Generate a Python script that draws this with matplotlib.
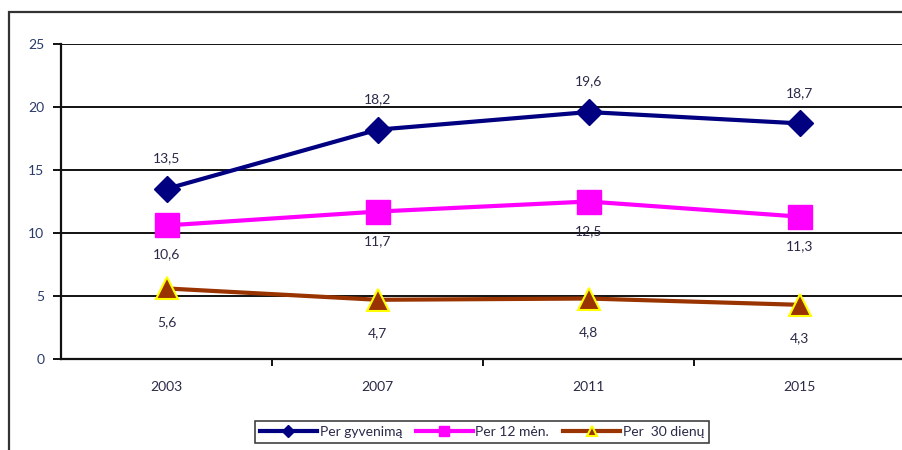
import matplotlib.pyplot as plt
from matplotlib.patches import Rectangle

plt.rcParams['font.family'] = ['Lato', 'DejaVu Sans']

years = ['2003', '2007', '2011', '2015']
per_gyvenima = [13.5, 18.2, 19.6, 18.7]
per_12_men = [10.6, 11.7, 12.5, 11.3]
per_30_dienu = [5.6, 4.7, 4.8, 4.3]
y_ticks = [0, 5, 10, 15, 20, 25]

W, H = 902, 450
fig = plt.figure(figsize=(W / 100, H / 100), dpi=100)

# outer chart frame (runs off the right and bottom edges)
fig.patches.append(Rectangle((9 / W, -0.05), 1.0, 1 - 12 / H + 0.05, transform=fig.transFigure,
                             fill=False, edgecolor='#333333', linewidth=1.6))

ax = fig.add_axes([61 / W, 1 - 359 / H, 844 / W, 315 / H])
x = list(range(len(years)))
txt = '#2a2a48'
fs = 10

ax.plot(x, per_gyvenima, color='#000080', lw=3, marker='D', ms=13, mfc='#000080', mec='#000080',
        label='Per gyvenimą', zorder=4)
ax.plot(x, per_12_men, color='#FF00FF', lw=3, marker='s', ms=17, mfc='#FF00FF', mec='#FF00FF',
        label='Per 12 mėn.', zorder=4)
ax.plot(x, per_30_dienu, color='#993300', lw=3, marker='^', ms=16, mfc='#993300', mec='#FFFF00',
        mew=1.5, label='Per  30 dienų', zorder=4)

def fmt(v):
    return f'{v:.1f}'.replace('.', ',')

for xi, v in zip(x, per_gyvenima):
    ax.annotate(fmt(v), (xi, v), xytext=(0, 22), textcoords='offset points', ha='center',
                va='center', fontsize=fs, color=txt)
for xi, v in zip(x, per_12_men):
    ax.annotate(fmt(v), (xi, v), xytext=(0, -21), textcoords='offset points', ha='center',
                va='center', fontsize=fs, color=txt)
for xi, v in zip(x, per_30_dienu):
    ax.annotate(fmt(v), (xi, v), xytext=(0, -24), textcoords='offset points', ha='center',
                va='center', fontsize=fs, color=txt)

ax.set_xlim(-0.5, 3.5)
ax.set_ylim(0, 25)
ax.set_yticks(y_ticks)
ax.set_yticklabels([str(t) for t in y_ticks], fontsize=fs, color='#2a3a6a')
for t in y_ticks[1:]:
    ax.axhline(t, color='#111111', lw=1.4, zorder=1)

ax.set_xticks(x)
ax.set_xticklabels(years, fontsize=fs, color=txt)
ax.tick_params(axis='x', which='major', length=0, pad=16)
ax.set_xticks([i + 0.5 for i in x[:-1]], minor=True)
ax.tick_params(axis='x', which='minor', length=5, width=1.4, direction='out', color='#111111')
ax.tick_params(axis='y', length=6, width=1.4, direction='out', color='#111111', pad=6)

for side in ['top', 'right']:
    ax.spines[side].set_visible(False)
ax.spines['left'].set_linewidth(1.6)
ax.spines['bottom'].set_linewidth(1.6)
ax.spines['left'].set_color('#111111')
ax.spines['bottom'].set_color('#111111')

leg = fig.legend(loc='center', bbox_to_anchor=(482 / W, 1 - 432 / H), ncol=3, fontsize=fs,
                 frameon=True, fancybox=False, handlelength=4.1, handletextpad=0.2,
                 columnspacing=1.0, borderpad=0.35, markerscale=0.45)
leg.get_frame().set_edgecolor('#111111')
leg.get_frame().set_linewidth(1.2)
for t in leg.get_texts():
    t.set_color(txt)

fig.savefig('out.png', dpi=100)
